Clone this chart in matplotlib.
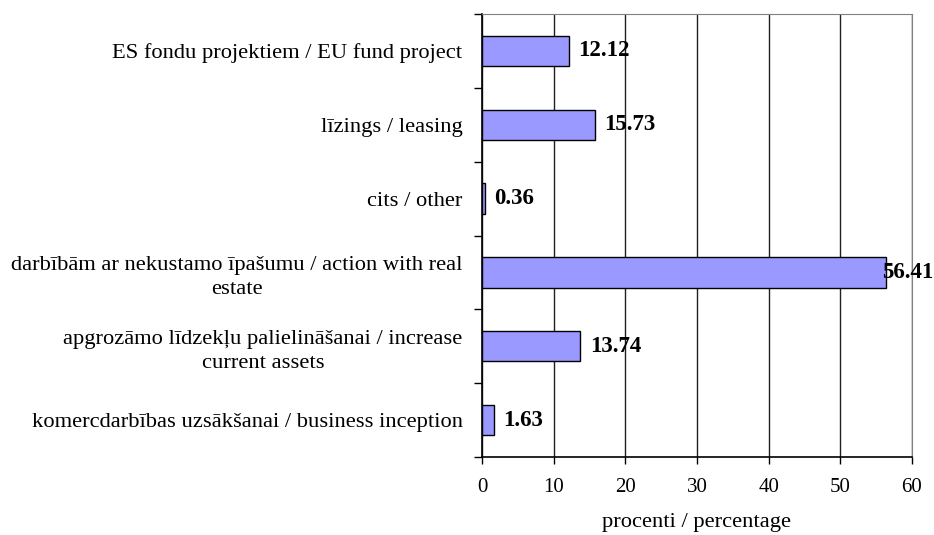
import matplotlib
matplotlib.use("Agg")
import matplotlib.pyplot as plt

categories = [
    "komercdarbības uzsākšanai / business inception",
    "apgrozāmo līdzekļu palielināšanai / increase\ncurrent assets",
    "darbībām ar nekustamo īpašumu / action with real\nestate",
    "cits / other",
    "līzings / leasing",
    "ES fondu projektiem / EU fund project",
]
values = [1.63, 13.74, 56.41, 0.36, 15.73, 12.12]
xticks = [0, 10, 20, 30, 40, 50, 60]
xlabel = "procenti / percentage"

plt.rcParams['font.family'] = ['Liberation Serif', 'DejaVu Serif']
FS_CAT = 16.2
FS_TICK = 15
FS_VAL = 16.5

W, H = 934, 535
fig = plt.figure(figsize=(W/100, H/100), dpi=100)
ax = fig.add_axes([482/W, 1-457/H, 430/W, 443/H])

ypos = list(range(len(categories)))
ax.barh(ypos, values, height=0.41, color='#9999ff', edgecolor='black', linewidth=1.0, zorder=3)
ax.set_xlim(0, 60)
ax.set_ylim(-0.5, len(categories)-0.5)
ax.set_xticks(xticks)
ax.set_xticklabels([str(t) for t in xticks], fontsize=FS_TICK)
ax.set_yticks([y - 0.5 for y in ypos] + [len(categories)-0.5])
ax.set_yticklabels([])
ax.set_yticks(ypos, minor=True)
ax.set_yticklabels(categories, minor=True, fontsize=FS_CAT, multialignment='center',
                   linespacing=1.38)
ax.tick_params(axis='y', which='minor', length=0, pad=14)
ax.tick_params(axis='y', which='major', length=6, direction='out', width=1)
ax.tick_params(axis='x', length=5, direction='out', width=1, pad=10)
ax.xaxis.grid(True, color='#202020', linewidth=1.0, zorder=0)
for s in ['top', 'right']:
    ax.spines[s].set_color('#808080')
ax.spines['left'].set_linewidth(1.2)
ax.spines['bottom'].set_linewidth(1.2)
fig.text((482 + 430/2)/W, 1-527/H, xlabel, fontsize=FS_CAT, ha='center', va='baseline')

for y, v in zip(ypos, values):
    if v > 50:
        ax.annotate(f"{v:.2f}", (v, y), xytext=(-3, 0), textcoords='offset points',
                    va='center', ha='left', fontsize=FS_VAL, fontweight='bold', zorder=4,
                    annotation_clip=False)
    else:
        ax.annotate(f"{v:.2f}", (v, y), xytext=(7, 0), textcoords='offset points',
                    va='center', ha='left', fontsize=FS_VAL, fontweight='bold', zorder=4)

fig.savefig("out.png", dpi=100)
